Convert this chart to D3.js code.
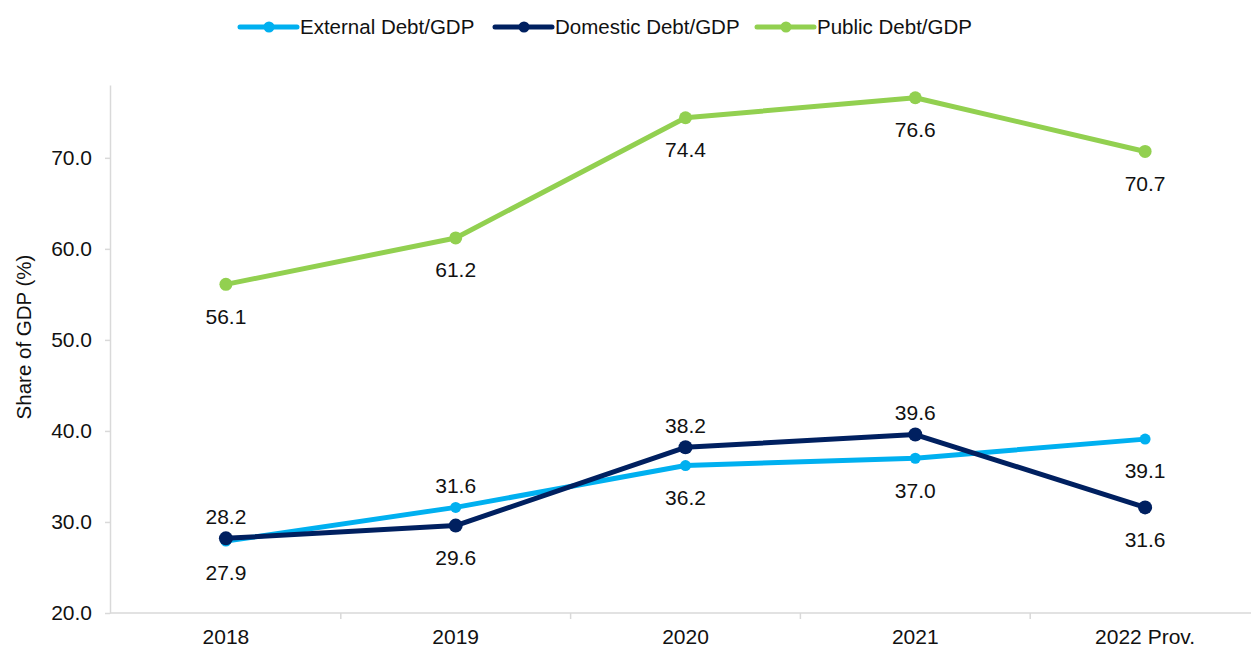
<!DOCTYPE html>
<html>
<head>
<meta charset="utf-8">
<script src="https://cdn.jsdelivr.net/npm/d3@7"></script>
<style>
  html, body { margin: 0; padding: 0; background: #fff; }
  svg { display: block; font-family: "Liberation Sans", Arial, sans-serif; }
</style>
</head>
<body>
<svg id="chart" width="1251" height="648"></svg>
<script>
// Debt ratios, share of GDP (%)
const years = ["2018", "2019", "2020", "2021", "2022 Prov."];
const externalDebt = [27.9, 31.6, 36.2, 37.0, 39.1];
const domesticDebt = [28.2, 29.6, 38.2, 39.6, 31.6];
const publicDebt = [56.1, 61.2, 74.4, 76.6, 70.7];
const yTicks = [20, 30, 40, 50, 60, 70];

// which side of the point each value label sits on
const externalLabelSide = ["below", "above", "below", "below", "below"];
const domesticLabelSide = ["above", "below", "above", "above", "below"];
const publicLabelSide = ["below", "below", "below", "below", "below"];

const series = [
  { name: "External Debt/GDP", values: externalDebt, sides: externalLabelSide, color: "#00B0F0", r: 5.5 },
  { name: "Domestic Debt/GDP", values: domesticDebt, sides: domesticLabelSide, color: "#002060", r: 7 },
  { name: "Public Debt/GDP", values: publicDebt, sides: publicLabelSide, color: "#92D050", r: 6.5 }
];

const svg = d3.select("#chart");
const axisColor = "#d9d9d9";
const textColor = "#111";

const x = d3.scaleBand().domain(years).range([111, 1260]).padding(0);
const y = d3.scaleLinear().domain([20, 78]).range([613, 85]);
const cx = d => x(d) + x.bandwidth() / 2;

// y axis
const yAxis = svg.append("g")
  .attr("transform", "translate(110,0)")
  .call(d3.axisLeft(y).tickValues(yTicks).tickFormat(d3.format(".1f")).tickSize(5).tickPadding(13).tickSizeOuter(0));
yAxis.select(".domain").attr("stroke", axisColor).attr("stroke-width", 1.5);
yAxis.selectAll(".tick line").attr("stroke", axisColor).attr("stroke-width", 1.5);
yAxis.selectAll(".tick text").attr("fill", textColor).style("font-size", "21px")
  .style("font-family", "'Liberation Sans', Arial, sans-serif");

// x axis: line with ticks between categories
const xg = svg.append("g");
xg.append("line")
  .attr("x1", 110).attr("x2", 1251)
  .attr("y1", y(20)).attr("y2", y(20))
  .attr("stroke", axisColor).attr("stroke-width", 1.5);
xg.selectAll("line.sep")
  .data(years.slice(1))
  .join("line")
  .attr("class", "sep")
  .attr("x1", d => x(d)).attr("x2", d => x(d))
  .attr("y1", y(20)).attr("y2", y(20) + 6)
  .attr("stroke", axisColor).attr("stroke-width", 1.5);
xg.selectAll("text")
  .data(years)
  .join("text")
  .attr("x", d => cx(d))
  .attr("y", y(20) + 24)
  .attr("dy", "0.35em")
  .attr("text-anchor", "middle")
  .attr("fill", textColor)
  .style("font-size", "21px")
  .text(d => d);

// y axis title
svg.append("text")
  .attr("transform", `translate(24,${337}) rotate(-90)`)
  .attr("text-anchor", "middle")
  .attr("dy", "0.35em")
  .attr("fill", textColor)
  .style("font-size", "20.5px")
  .text("Share of GDP (%)");

const line = d3.line().x((d, i) => cx(years[i])).y(d => y(d));

series.forEach(s => {
  const g = svg.append("g");
  g.append("path")
    .datum(s.values)
    .attr("d", line)
    .attr("fill", "none")
    .attr("stroke", s.color)
    .attr("stroke-width", 5)
    .attr("stroke-linejoin", "round");
  g.selectAll("circle")
    .data(s.values)
    .join("circle")
    .attr("cx", (d, i) => cx(years[i]))
    .attr("cy", d => y(d))
    .attr("r", s.r)
    .attr("fill", s.color);
});

// value labels
series.forEach(s => {
  svg.append("g").selectAll("text")
    .data(s.values)
    .join("text")
    .attr("x", (d, i) => cx(years[i]))
    .attr("y", (d, i) => y(d) + (s.sides[i] === "above" ? -22 : 32))
    .attr("dy", "0.35em")
    .attr("text-anchor", "middle")
    .attr("fill", textColor)
    .style("font-size", "21px")
    .text(d => d.toFixed(1));
});

// legend
const legendX = [240, 495, 757];
const legend = svg.append("g");
series.forEach((s, i) => {
  const lg = legend.append("g").attr("transform", `translate(${legendX[i]},27)`);
  lg.append("line").attr("x1", 0).attr("x2", 57).attr("y1", 0).attr("y2", 0)
    .attr("stroke", s.color).attr("stroke-width", 5).attr("stroke-linecap", "round");
  lg.append("circle").attr("cx", 29).attr("cy", 0).attr("r", 5.5).attr("fill", s.color);
  lg.append("text").attr("x", 60).attr("y", 0).attr("dy", "0.35em")
    .attr("fill", textColor).style("font-size", "20.5px").text(s.name);
});
</script>
</body>
</html>
